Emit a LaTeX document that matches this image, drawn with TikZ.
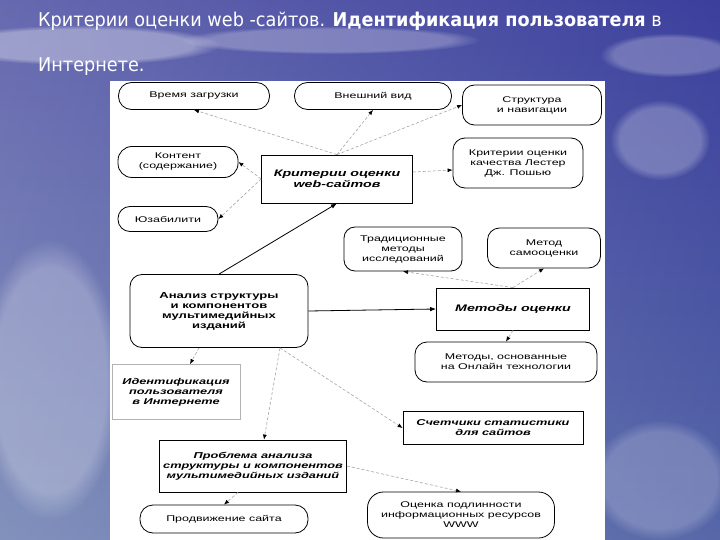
\documentclass[tikz,border=0pt]{standalone}
\usepackage{fontspec}
\usepackage{tikz}
\usetikzlibrary{arrows.meta,fadings}
\newfontfamily\dfont[FakeStretch=1.5]{Liberation Sans}
\newfontfamily\tfont[FakeStretch=0.93]{DejaVu Sans}
\definecolor{skytop}{RGB}{82,86,196}
\definecolor{skybot}{RGB}{124,148,214}
\definecolor{skydark}{RGB}{40,46,160}

\begin{document}
\begin{tikzpicture}[
  x=1pt, y=-1pt,
  font=\dfont\fontsize{8.3}{10}\selectfont,
  oval/.style={draw, rounded corners=13pt, line width=.8pt, inner sep=1pt, align=center},
  sq/.style={draw, rectangle, line width=.8pt, inner sep=1pt, align=center, font=\dfont\bfseries\itshape\fontsize{8.5}{10}\selectfont},
  big/.style={sq, font=\dfont\bfseries\itshape\fontsize{9.5}{11}\selectfont},
  ttl/.style={anchor=base west, text=white, inner sep=0pt, font=\tfont\fontsize{19}{23}\selectfont},
  cloud/.style={fill=white, path fading=circle with fuzzy edge 20 percent},
  darr/.style={densely dashed, gray!70, line width=.6pt, -{Latex[length=5pt,width=4pt,black]}},
  arr/.style={line width=.8pt, -{Latex[length=6pt,width=4.5pt]}}
]
  % sky
  \fill[top color=skytop, bottom color=skybot] (0,0) rectangle (720,540);
  \fill[left color=white, right color=skydark, opacity=.2] (0,0) rectangle (720,540);
  \useasboundingbox (0,0) rectangle (720,540);
  \fill[cloud, opacity=.35] (80,45) ellipse (140 and 20);
  \fill[cloud, opacity=.25] (330,40) ellipse (150 and 14);
  \fill[cloud, opacity=.25] (670,55) ellipse (70 and 22);
  \fill[cloud, opacity=.25] (660,140) ellipse (50 and 40);
  \fill[cloud, opacity=.25] (50,380) ellipse (70 and 140);
  \fill[cloud, opacity=.2] (660,480) ellipse (70 and 60);

  \node[ttl] (title1) at (38,27) {Критерии оценки web -сайтов. \textbf{Идентификация пользователя} в};
  \node[ttl] (title2) at (38,72) {Интернете.};

  % panel
  \fill[white] (110,81) rectangle (605,540);

  \node[oval, minimum width=151pt, minimum height=27pt] (tload) at (194,96) {Время загрузки};
  \node[oval, minimum width=157pt, minimum height=27pt] (look) at (373,96) {Внешний вид};
  \node[oval, rounded corners=12pt, minimum width=139pt, minimum height=40pt] (nav) at (532,105) {Структура\\и навигации};
  \node[oval, rounded corners=12pt, minimum width=130pt, minimum height=50pt] (lester) at (518,163) {Критерии оценки\\качества Лестер\\Дж. Пошью};
  \node[oval, rounded corners=14pt, minimum width=120pt, minimum height=31pt] (content) at (178,162) {Контент\\(содержание)};
  \node[oval, rounded corners=12pt, minimum width=100pt, minimum height=25pt] (usab) at (168,219) {Юзабилити};
  \node[big, minimum width=151pt, minimum height=48pt] (crit) at (337,179) {Критерии оценки\\web-сайтов};
  \node[oval, rounded corners=11pt, minimum width=118pt, minimum height=44pt] (trad) at (403,249) {Традиционные\\методы\\исследований};
  \node[oval, rounded corners=12pt, minimum width=113pt, minimum height=40pt] (self) at (544,248) {Метод\\самооценки};
  \node[oval, rounded corners=12pt, minimum width=178pt, minimum height=73pt, font=\dfont\bfseries\fontsize{8.7}{10}\selectfont] (anal) at (219,311) {Анализ структуры\\и компонентов\\мультимедийных\\изданий};
  \node[big, minimum width=153pt, minimum height=42pt] (meth) at (513,309) {Методы оценки};
  \node[oval, rounded corners=12pt, minimum width=182pt, minimum height=40pt] (online) at (506,362) {Методы, основанные\\на Онлайн технологии};
  \node[sq, draw=gray!60, minimum width=128pt, minimum height=55pt] (ident) at (176,392) {Идентификация\\пользователя\\в Интернете};
  \node[sq, minimum width=180pt, minimum height=33pt] (count) at (493,428) {Счетчики статистики\\для сайтов};
  \node[sq, minimum width=187pt, minimum height=52pt] (probl) at (253,466) {Проблема анализа\\структуры и компонентов\\мультимедийных изданий};
  \node[oval, minimum width=168pt, minimum height=28pt] (promo) at (224,519) {Продвижение сайта};
  \node[oval, rounded corners=16pt, minimum width=187pt, minimum height=46pt] (auth) at (461,515) {Оценка подлинности\\информационных ресурсов\\WWW};

  \foreach \n in {tload,look} \draw[darr] (crit.north) -- (\n.south);
  \draw[darr] (crit.north) -- (nav.west);
  \draw[darr] ([yshift=7pt]crit.east) -- ([yshift=-7pt]lester.west);
  \foreach \n in {content,usab} \draw[darr] (crit.west) -- (\n.east);
  \draw[arr] (anal.north) -- (crit.south);
  \draw[arr] (anal.east) -- (meth.west);
  \foreach \n in {trad,self} \draw[darr] (meth.north) -- (\n.south);
  \draw[darr] (meth.south) -- (online.north);
  \draw[darr] ([xshift=-20pt]anal.south) -- ([xshift=14pt]ident.north);
  \draw[darr] ([xshift=61pt]anal.south) -- ([xshift=11pt]probl.north);
  \draw[darr] ([xshift=61pt]anal.south) -- (count.west);
  \draw[darr] (probl.east) -- (auth.north);
  \draw[darr] ([xshift=-15pt]probl.south) -- (promo.north);
\end{tikzpicture}
\end{document}
